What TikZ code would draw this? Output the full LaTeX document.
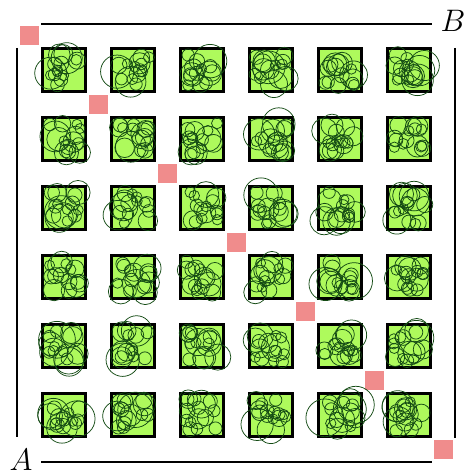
\documentclass[tikz,border=0pt]{standalone}
\usetikzlibrary{calc}
\definecolor{pinkfill}{RGB}{240,140,140}
\definecolor{greenfill}{RGB}{174,250,92}
\definecolor{circgreen}{RGB}{20,75,20}
\begin{document}
\begin{tikzpicture}[x=1pt,y=-1pt,
  pinkbox/.style={fill=pinkfill,draw=none,minimum size=19pt,inner sep=0pt},
  greenbox/.style={fill=greenfill,draw=black,line width=2.6pt,minimum size=43.5pt,inner sep=0pt},
  circ/.style={draw=circgreen,line width=0.75pt},
  frame/.style={draw=black,line width=2pt},
  lab/.style={inner sep=0pt,font=\Huge}]
\useasboundingbox (0,0) rectangle (465,476);
\pgfmathsetseed{4242}
\foreach \k in {0,...,6}
  \node[pinkbox] (p\k) at ({29.5+69*\k},{35.5+69*\k}) {};
\foreach \i in {0,...,5} {
  \foreach \j in {0,...,5} {
    \node[greenbox] (g\i\j) at ({64+69*\i},{70+69*\j}) {};
  }
}
\foreach \i in {0,...,5} {
  \foreach \j in {0,...,5} {
    \foreach \c in {1,...,15} {
      \pgfmathsetmacro\dx{32*rnd-16}
      \pgfmathsetmacro\dy{32*rnd-16}
      \pgfmathsetmacro\rr{5+15*rnd*rnd}
      \draw[circ] ($(g\i\j)+(\dx,\dy)$) circle[radius=\rr pt];
    }
  }
}
\coordinate (t1) at (41,24); \coordinate (t2) at (432,24);
\coordinate (b1) at (41,462); \coordinate (b2) at (432,462);
\coordinate (l1) at (17,48); \coordinate (l2) at (17,437);
\coordinate (r1) at (455,48); \coordinate (r2) at (455,438);
\draw[frame] (t1) -- (t2);
\draw[frame] (b1) -- (b2);
\draw[frame] (l1) -- (l2);
\draw[frame] (r1) -- (r2);
\node[lab] (B) at (453,21) {\scalebox{1.25}{$B$}};
\node[lab] (A) at (21,460) {\scalebox{1.25}{$A$}};
\end{tikzpicture}
\end{document}
